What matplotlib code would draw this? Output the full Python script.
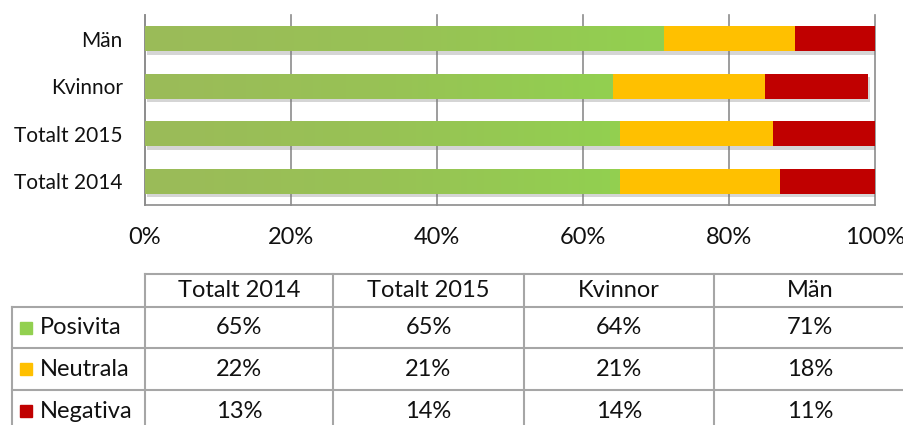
import numpy as np
import matplotlib.pyplot as plt
import matplotlib.patheffects as pe
from matplotlib.colors import LinearSegmentedColormap

# --- data ---
categories = ['Totalt 2014', 'Totalt 2015', 'Kvinnor', 'Män']
posivita = [65, 65, 64, 71]
neutrala = [22, 21, 21, 18]
negativa = [13, 14, 14, 11]
series_names = ['Posivita', 'Neutrala', 'Negativa']
xticks = [0, 20, 40, 60, 80, 100]

colors = ['#92D050', '#FFC000', '#C00000']
grid_col = '#8C8C8C'

plt.rcParams['font.family'] = ['Lato', 'DejaVu Sans']
W, H = 904, 425
fig = plt.figure(figsize=(W / 100, H / 100), dpi=100)

# --- bar chart ---
ax = fig.add_axes([145 / W, 1 - 205 / H, 730 / W, 190 / H])
y = np.arange(len(categories))
bh = 0.53
shadow = [pe.SimplePatchShadow(offset=(1.5, -2.5), shadow_rgbFace='#777777', alpha=0.3), pe.Normal()]

pos = np.array(posivita)
neu = np.array(neutrala)
neg = np.array(negativa)
b1 = ax.barh(y, pos, height=bh, color=colors[0], zorder=3, path_effects=shadow)
b2 = ax.barh(y, neu, left=pos, height=bh, color=colors[1], zorder=3, path_effects=shadow)
b3 = ax.barh(y, neg, left=pos + neu, height=bh, color=colors[2], zorder=3, path_effects=shadow)

# green gradient like the original
cmap = LinearSegmentedColormap.from_list('g', ['#9BBB59', '#98C255', '#92D050'])
grad = np.linspace(0, 1, 256).reshape(1, -1)
for rect in b1:
    x0, y0 = rect.get_x(), rect.get_y()
    im = ax.imshow(grad, extent=[x0, x0 + rect.get_width(), y0, y0 + rect.get_height()],
                   cmap=cmap, aspect='auto', zorder=3.5, origin='lower')
    im.set_clip_path(rect)

ax.set_xlim(0, 100)
ax.set_ylim(-0.5, 3.5)
ax.set_xticks(xticks)
ax.set_xticklabels([f'{t}%' for t in xticks])
ax.set_yticks(y)
ax.set_yticklabels(categories)
ax.tick_params(axis='x', length=0, pad=16, labelsize=17, labelcolor='#111111')
ax.tick_params(axis='y', length=0, pad=16, labelsize=15, labelcolor='#111111')
ax.grid(axis='x', color=grid_col, lw=1.2, zorder=0)
for g in ax.get_xgridlines():
    g.set_clip_on(False)
for s in ['top', 'right']:
    ax.spines[s].set_visible(False)
for s in ['left', 'bottom']:
    ax.spines[s].set_color(grid_col)
    ax.spines[s].set_linewidth(1.2)

# --- data table ---
tax = fig.add_axes([0, 0, 1, 1])
tax.set_xlim(0, W)
tax.set_ylim(H, 0)
tax.axis('off')

col_x = [12, 145, 333, 524, 714, 906]
row_y = [274, 307, 348, 390, 432]
lc = '#A6A6A6'
lw = 1.5
# horizontal lines
tax.plot([col_x[1], col_x[-1]], [row_y[0]] * 2, color=lc, lw=lw)
for r in row_y[1:]:
    tax.plot([col_x[0], col_x[-1]], [r] * 2, color=lc, lw=lw)
# vertical lines
tax.plot([col_x[0]] * 2, [row_y[1], row_y[-1]], color=lc, lw=lw)
for c in col_x[1:]:
    tax.plot([c] * 2, [row_y[0], row_y[-1]], color=lc, lw=lw)

fs = 17
for j, cat in enumerate(categories):
    cx = (col_x[j + 1] + col_x[j + 2]) / 2
    tax.text(cx, (row_y[0] + row_y[1]) / 2, cat, ha='center', va='center', fontsize=fs, color='#111111')

table_vals = [posivita, neutrala, negativa]
for i, (name, vals) in enumerate(zip(series_names, table_vals)):
    cy = (row_y[i + 1] + row_y[i + 2]) / 2
    tax.add_patch(plt.Rectangle((20, cy - 6), 12, 12, color=colors[i]))
    tax.text(40, cy, name, ha='left', va='center', fontsize=fs, color='#111111')
    for j, v in enumerate(vals):
        cx = (col_x[j + 1] + col_x[j + 2]) / 2
        tax.text(cx, cy, f'{v}%', ha='center', va='center', fontsize=fs, color='#111111')

fig.savefig('out.png', dpi=100)
